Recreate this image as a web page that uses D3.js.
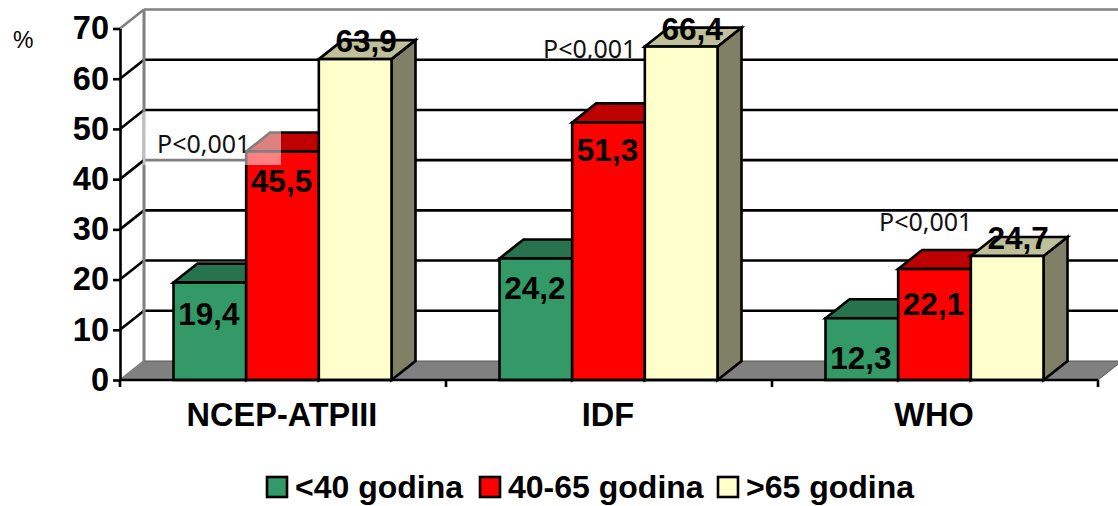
<!DOCTYPE html>
<html>
<head>
<meta charset="utf-8">
<script src="https://cdn.jsdelivr.net/npm/d3@7"></script>
<style>
html, body { margin: 0; padding: 0; background: #fff; }
svg { display: block; }
text { font-family: "Liberation Sans", Arial, sans-serif; fill: #000; }
.bold { font-weight: bold; }
.note { font-family: "Noto Sans", "Open Sans", sans-serif; font-size: 25px; fill: #111; }
</style>
</head>
<body>
<div id="chart"></div>
<script>
var categories = ["NCEP-ATPIII", "IDF", "WHO"];
var series_names = ["<40 godina", "40-65 godina", ">65 godina"];
var under_40 = [19.4, 24.2, 12.3];
var from_40_to_65 = [45.5, 51.3, 22.1];
var over_65 = [63.9, 66.4, 24.7];
var series_values = [under_40, from_40_to_65, over_65];
var y_ticks = [0, 10, 20, 30, 40, 50, 60, 70];
var face_colors = ["#339966", "#ff0000", "#ffffcc"];

var width = 1118, height = 506;
var depth_x = 24, depth_y = -19;
var line_width = 2.6;

var svg = d3.select("#chart").append("svg")
            .attr("width", width)
            .attr("height", height);

var x_group = d3.scaleBand().domain(categories).range([120, 1098]);
var x_bar = d3.scaleBand().domain(series_names).range([53.5, 271.5]);
var y = d3.scaleLinear().domain([0, 70]).range([380, 28.5]);

function points(list) {
    return list.map(function (p) { return p.join(","); }).join(" ");
}

// floor
svg.append("polygon")
   .attr("points", points([[120, y(0)], [1098, y(0)], [1098 + depth_x, y(0) + depth_y], [120 + depth_x, y(0) + depth_y]]))
   .attr("fill", "#808080")
   .attr("stroke", "#5a5a5a")
   .attr("stroke-width", 1);

// gridlines on the back wall and the diagonal on the side wall
y_ticks.slice(1).forEach(function (t) {
    var top = t === 70;
    var color = top ? "#808080" : "#000";
    svg.append("line")
       .attr("x1", 120).attr("y1", y(t))
       .attr("x2", 120 + depth_x).attr("y2", y(t) + depth_y)
       .attr("stroke", color).attr("stroke-width", line_width);
    svg.append("line")
       .attr("x1", 120 + depth_x).attr("y1", y(t) + depth_y)
       .attr("x2", width).attr("y2", y(t) + depth_y)
       .attr("stroke", color).attr("stroke-width", line_width);
});

// back wall left edge
svg.append("line")
   .attr("x1", 120 + depth_x).attr("y1", y(70) + depth_y)
   .attr("x2", 120 + depth_x).attr("y2", y(0) + depth_y)
   .attr("stroke", "#808080").attr("stroke-width", 3);
svg.append("line")
   .attr("x1", 120).attr("y1", y(0))
   .attr("x2", 120 + depth_x).attr("y2", y(0) + depth_y)
   .attr("stroke", "#808080").attr("stroke-width", 2);

// bars
categories.forEach(function (cat, c) {
    series_names.forEach(function (name, s) {
        var value = series_values[s][c];
        var x0 = x_group(cat) + x_bar(name);
        var x1 = x0 + x_bar.bandwidth();
        var yt = y(value);
        var yb = y(0);
        var base = d3.color(face_colors[s]);

        svg.append("polygon")
           .attr("points", points([[x1, yt], [x1 + depth_x, yt + depth_y], [x1 + depth_x, yb + depth_y], [x1, yb]]))
           .attr("fill", d3.rgb(base.r * 0.5, base.g * 0.5, base.b * 0.5))
           .attr("stroke", "#000").attr("stroke-width", line_width);
        svg.append("polygon")
           .attr("points", points([[x0, yt], [x0 + depth_x, yt + depth_y], [x1 + depth_x, yt + depth_y], [x1, yt]]))
           .attr("fill", d3.rgb(base.r * 0.75, base.g * 0.75, base.b * 0.75))
           .attr("stroke", "#000").attr("stroke-width", line_width);
        svg.append("rect")
           .attr("x", x0).attr("y", yt)
           .attr("width", x1 - x0).attr("height", yb - yt)
           .attr("fill", face_colors[s])
           .attr("stroke", "#000").attr("stroke-width", line_width);
    });
});

// axes
var y_axis = svg.append("g")
                .attr("transform", "translate(120,0)")
                .call(d3.axisLeft(y).tickValues(y_ticks).tickSize(7).tickPadding(4).tickSizeOuter(0));
y_axis.selectAll("line").attr("stroke", "#000").attr("stroke-width", line_width);
y_axis.select(".domain").attr("stroke", "#000").attr("stroke-width", line_width);
y_axis.selectAll("text")
      .attr("class", "bold")
      .style("font-size", "32.5px")
      .style("font-family", "'Liberation Sans', Arial, sans-serif");

var x_axis = svg.append("g")
                .attr("transform", "translate(0," + y(0) + ")");
x_axis.append("line")
      .attr("x1", 120).attr("x2", 1098)
      .attr("stroke", "#000").attr("stroke-width", line_width);
categories.concat([null]).forEach(function (cat) {
    var tx = cat === null ? x_group.range()[1] : x_group(cat);
    x_axis.append("line")
          .attr("x1", tx).attr("x2", tx)
          .attr("y1", 0).attr("y2", 7)
          .attr("stroke", "#000").attr("stroke-width", line_width);
});
categories.forEach(function (cat) {
    svg.append("text")
       .attr("class", "bold")
       .attr("x", x_group(cat) + x_group.bandwidth() / 2 - 1)
       .attr("y", 426)
       .attr("text-anchor", "middle")
       .style("font-size", "32.5px")
       .text(cat);
});

// translucent box behind the first note
svg.append("rect")
   .attr("x", 143).attr("y", 112)
   .attr("width", 138).attr("height", 53)
   .attr("fill", "#fff").attr("opacity", 0.5);

// value labels
var label_y = {
    "19,4": 325, "24,2": 299, "12,3": 369,
    "45,5": 192, "51,3": 161, "22,1": 315,
    "63,9": 52, "66,4": 40, "24,7": 249
};
categories.forEach(function (cat, c) {
    series_names.forEach(function (name, s) {
        var value = series_values[s][c];
        var label = String(value).replace(".", ",");
        svg.append("text")
           .attr("class", "bold")
           .attr("x", x_group(cat) + x_bar(name) + x_bar.bandwidth() / 2 + (s === 2 ? 11 : -1))
           .attr("y", label_y[label])
           .attr("text-anchor", "middle")
           .style("font-size", "31.5px")
           .text(label);
    });
});

// notes
svg.append("text").attr("class", "note").attr("x", 157).attr("y", 153).text("P<0,001");
svg.append("text").attr("class", "note").attr("x", 543).attr("y", 58).text("P<0,001");
svg.append("text").attr("class", "note").attr("x", 879).attr("y", 231).text("P<0,001");
svg.append("text").attr("x", 13).attr("y", 48).style("font-size", "23px").text("%");

// legend
var legend_x = [267, 480, 718];
series_names.forEach(function (name, s) {
    svg.append("rect")
       .attr("x", legend_x[s]).attr("y", 477)
       .attr("width", 20).attr("height", 20)
       .attr("fill", face_colors[s])
       .attr("stroke", "#000").attr("stroke-width", line_width);
    svg.append("text")
       .attr("class", "bold")
       .attr("x", legend_x[s] + 28)
       .attr("y", 498)
       .style("font-size", "32px")
       .text(name);
});
</script>
</body>
</html>
